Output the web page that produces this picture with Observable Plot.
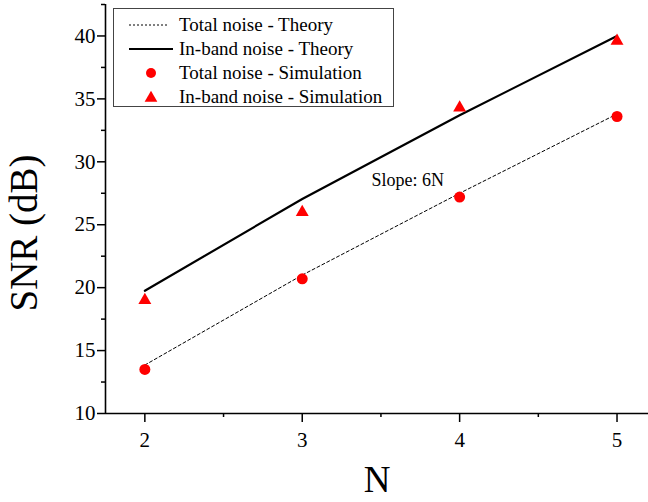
<!DOCTYPE html>
<html>
<head>
<meta charset="utf-8">
<script src="https://cdn.jsdelivr.net/npm/d3@7"></script>
<script src="https://cdn.jsdelivr.net/npm/@observablehq/plot@0.6"></script>
<style>
  body { margin: 0; background: #fff; }
  #wrap { position: relative; width: 648px; height: 502px; }
  #wrap svg text { font-family: "Liberation Serif", "Times New Roman", serif !important; }
  #legend {
    position: absolute; left: 113px; top: 8px; width: 281px; height: 99px;
    border: 1px solid #444; background: #fff; box-sizing: border-box;
    font-family: "Liberation Serif", "Times New Roman", serif; font-size: 19px; color: #000;
    padding-top: 4px;
  }
  .row { display: flex; align-items: center; height: 24px; }
  .row svg { margin-left: 15px; margin-right: 6px; flex: none; }
</style>
</head>
<body>
<div id="wrap"></div>
<script>
// ---- data ----
const N = [2, 3, 4, 5];
const totalTheory = [13.85, 21.0, 27.5, 33.8];
const inbandTheory = [19.75, 27.05, 33.7, 40.0];
const totalSim = [13.5, 20.7, 27.2, 33.6];
const inbandSim = [19.0, 26.0, 34.3, 39.6];

const seriesNames = [
  "Total noise - Theory",
  "In-band noise - Theory",
  "Total noise - Simulation",
  "In-band noise - Simulation"
];

const xTicks = [2, 3, 4, 5];
const xMinor = [2.5, 3.5, 4.5];
const yTicks = [10, 15, 20, 25, 30, 35, 40];
const yMinor = [12.5, 17.5, 22.5, 27.5, 32.5, 37.5, 42.5];

const annotation = ["Slope: 6N"];
const annX = [3.67];
const annY = [28.5];

const xLabel = "N";
const yLabel = "SNR (dB)";

// ---- table ----
const rows = N.map((n, i) => ({
  N: n,
  totalTheory: totalTheory[i],
  inbandTheory: inbandTheory[i],
  totalSim: totalSim[i],
  inbandSim: inbandSim[i]
}));
const ann = annotation.map((t, i) => ({text: t, x: annX[i], y: annY[i]}));

const serif = "Liberation Serif";
const fmt = d => String(d);

const chart = Plot.plot({
  width: 648,
  height: 502,
  marginLeft: 105,
  marginRight: 0,
  marginTop: 4,
  marginBottom: 89,
  x: {domain: [1.75, 5.2]},
  y: {domain: [10, 42.5]},
  style: {fontFamily: serif, color: "black", background: "white", overflow: "visible"},
  marks: [
    Plot.axisX(xMinor, {tickSize: 4, tickFormat: () => "", label: null, strokeWidth: 1.5}),
    Plot.axisX(xTicks, {tickSize: 9, tickPadding: 10, fontSize: 21, tickFormat: fmt, label: null, strokeWidth: 1.5, fontFamily: serif}),
    Plot.axisY(yMinor, {tickSize: 4, tickFormat: () => "", label: null, strokeWidth: 1.5}),
    Plot.axisY(yTicks, {tickSize: 8, tickPadding: 2, fontSize: 21, tickFormat: fmt, label: null, strokeWidth: 1.5, fontFamily: serif}),
    Plot.ruleX([1.75], {stroke: "black", strokeWidth: 1.6}),
    Plot.ruleY([10], {stroke: "black", strokeWidth: 1.6}),
    Plot.line(rows, {x: "N", y: "totalTheory", stroke: "black", strokeWidth: 1, strokeDasharray: "3,2.5"}),
    Plot.line(rows, {x: "N", y: "inbandTheory", stroke: "black", strokeWidth: 2.2}),
    Plot.dot(rows, {x: "N", y: "totalSim", r: 5.5, fill: "red", symbol: "circle"}),
    Plot.dot(rows, {x: "N", y: "inbandSim", r: 4.8, fill: "red", symbol: "triangle"}),
    Plot.text(ann, {x: "x", y: "y", text: "text", fontSize: 18, fill: "black", fontFamily: serif}),
    Plot.text([yLabel], {frameAnchor: "left", textAnchor: "middle", dx: -81, dy: 24, rotate: -90, fontSize: 39, fill: "black", fontFamily: serif}),
    Plot.text([xLabel], {frameAnchor: "bottom", textAnchor: "middle", dy: 78, fontSize: 37, fill: "black", fontFamily: serif})
  ]
});

const wrap = document.getElementById("wrap");
wrap.appendChild(chart);

// ---- legend (overlay) ----
const legend = document.createElement("div");
legend.id = "legend";
const ns = "http://www.w3.org/2000/svg";
const styles = [
  {type: "line", dash: "2,2", width: 1},
  {type: "line", dash: null, width: 2.2},
  {type: "circle"},
  {type: "triangle"}
];
seriesNames.forEach((name, i) => {
  const row = document.createElement("div");
  row.className = "row";
  const svg = document.createElementNS(ns, "svg");
  svg.setAttribute("width", 44);
  svg.setAttribute("height", 20);
  const s = styles[i];
  if (s.type === "line") {
    const l = document.createElementNS(ns, "line");
    l.setAttribute("x1", 0); l.setAttribute("x2", i === 0 ? 40 : 44);
    l.setAttribute("y1", 10); l.setAttribute("y2", 10);
    l.setAttribute("stroke", "black");
    l.setAttribute("stroke-width", s.width);
    if (s.dash) l.setAttribute("stroke-dasharray", s.dash);
    svg.appendChild(l);
  } else if (s.type === "circle") {
    const c = document.createElementNS(ns, "circle");
    c.setAttribute("cx", 22); c.setAttribute("cy", 10); c.setAttribute("r", 5);
    c.setAttribute("fill", "red");
    svg.appendChild(c);
  } else {
    const p = document.createElementNS(ns, "path");
    p.setAttribute("d", d3.symbol(d3.symbolTriangle, 70)());
    p.setAttribute("transform", "translate(22,11)");
    p.setAttribute("fill", "red");
    svg.appendChild(p);
  }
  row.appendChild(svg);
  const t = document.createElement("span");
  t.textContent = name;
  row.appendChild(t);
  legend.appendChild(row);
});
wrap.appendChild(legend);
</script>
</body>
</html>
